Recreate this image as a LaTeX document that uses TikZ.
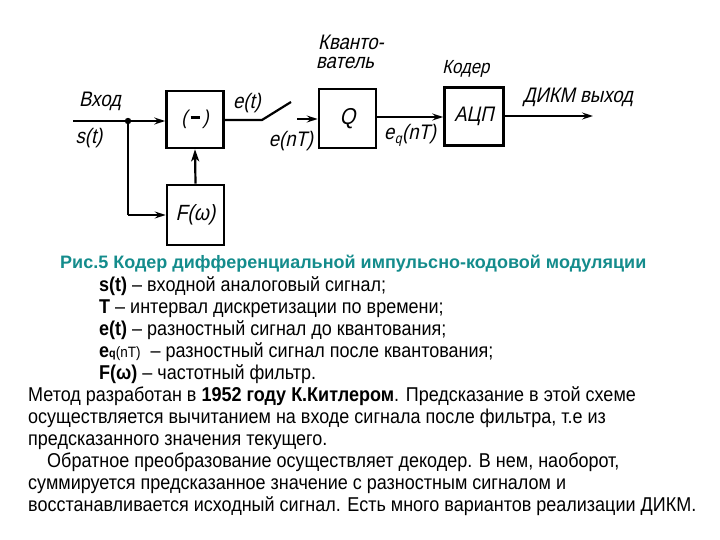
\documentclass[tikz,border=0pt]{standalone}
\usepackage{fontspec}
\setmainfont{Liberation Sans}
\newfontfamily\txt[FakeStretch=0.9]{Liberation Sans}
\newfontfamily\capf{Liberation Sans}
\newfontfamily\gost[FakeStretch=0.88,FakeSlant=0.22]{Liberation Sans}
\usetikzlibrary{arrows.meta}
\definecolor{capteal}{RGB}{20,140,140}
\begin{document}
\begin{tikzpicture}[x=1pt,y=-1pt,
  blk/.style={draw,line width=2.6pt,minimum width=#1,inner sep=0pt},
  wire/.style={line width=2.2pt},
  arr/.style={wire,-{Stealth[length=11pt,width=7pt,inset=4pt]}},
  lbl/.style={font=\gost\fontsize{21}{21}\selectfont,inner sep=0pt},
  body/.style={font=\txt\fontsize{20}{22}\selectfont,anchor=base west,inner sep=0pt}]
\useasboundingbox (0,0) rectangle (720,540);
% blocks
\node[blk=57pt,minimum height=57pt] (sub) at (195,119.5) {\gost\fontsize{20}{20}\selectfont(\,\rule[0.28em]{9pt}{2.6pt}\,)};
\node[blk=57pt,minimum height=59pt] (q) at (347.5,118.5) {\gost\fontsize{23}{23}\selectfont Q};
\node[blk=59pt,minimum height=58pt] (adc) at (474,116.5) {\gost\fontsize{21}{21}\selectfont АЦП};
\node[blk=57pt,minimum height=60pt] (f) at (195.5,215) {\gost\fontsize{22}{22}\selectfont F(ω)};
% coordinates
\coordinate (in) at (73,121);
\coordinate (j) at (128,121);
\coordinate (jd) at (128,215);
\coordinate (sw1) at (262,120);
\coordinate (sw2) at (291,102);
\coordinate (sw3) at (297,119);
\coordinate (out) at (593,116);
% connectors
\draw[wire] (in) -- (j);
\fill (j) circle (3.2pt);
\draw[arr] (j) -- (j -| sub.west);
\draw[wire] (j) -- (jd);
\draw[arr] (jd) -- (f.west |- jd);
\draw[wire,-{Stealth[length=12pt,width=8pt,inset=3pt]}] (f.north) -- (sub.south);
\draw[wire] (sub.east |- sw1) -- (sw1) -- (sw2);
\draw[arr] (sw3) -- (q.west |- sw3);
\draw[arr] (q.east |- 0,117) -- (adc.west |- 0,117);
\draw[arr] (adc.east |- out) -- (out);
% labels
\node[lbl] (lin) at (100,101) {Вход};
\node[lbl] (ls) at (89,138) {s(t)};
\node[lbl] (let) at (247,103) {e(t)};
\node[lbl] (lent) at (291,141) {e(nT)};
\node[lbl] (lq1) at (351,42) {Кванто-};
\node[lbl] (lq2) at (345,63) {ватель};
\node[lbl] (leq) at (410,135) {e\kern0.5pt\raisebox{-4pt}{\fontsize{14}{14}\selectfont q}\kern0.5pt(nT)};
\node[lbl,font=\gost\fontsize{19}{19}\selectfont] (lcod) at (466,69) {Кодер};
\node[lbl] (ldk) at (578,97) {ДИКМ выход};
% text
\node[body,font=\capf\bfseries\fontsize{18}{22}\selectfont,text=capteal] (cap) at (60,268) {Рис.5 Кодер дифференциальной импульсно-кодовой модуляции};
\node[body] (t1) at (99,291) {\textbf{s(t)} – входной аналоговый сигнал;};
\node[body] (t2) at (99,313) {\textbf{T} – интервал дискретизации по времени;};
\node[body] (t3) at (99,335) {\textbf{e(t)} – разностный сигнал до квантования;};
\node[body] (t4) at (99,357) {\textbf{e}{\fontsize{12}{12}\selectfont\textbf{q}}{\fontsize{15}{15}\selectfont(nT)}\ \ – разностный сигнал после квантования;};
\node[body] (t5) at (99,379) {\textbf{F(ω)} – частотный фильтр.};
\node[body] (p1) at (28,401) {Метод разработан в \textbf{1952 году К.Китлером}. Предсказание в этой схеме};
\node[body] (p2) at (28,423) {осуществляется вычитанием на входе сигнала после фильтра, т.е из};
\node[body] (p3) at (28,445) {предсказанного значения текущего.};
\node[body] (p4) at (47,467) {Обратное преобразование осуществляет декодер. В нем, наоборот,};
\node[body] (p5) at (28,489) {суммируется предсказанное значение с разностным сигналом и};
\node[body] (p6) at (28,511) {восстанавливается исходный сигнал. Есть много вариантов реализации ДИКМ.};
\end{tikzpicture}
\end{document}
